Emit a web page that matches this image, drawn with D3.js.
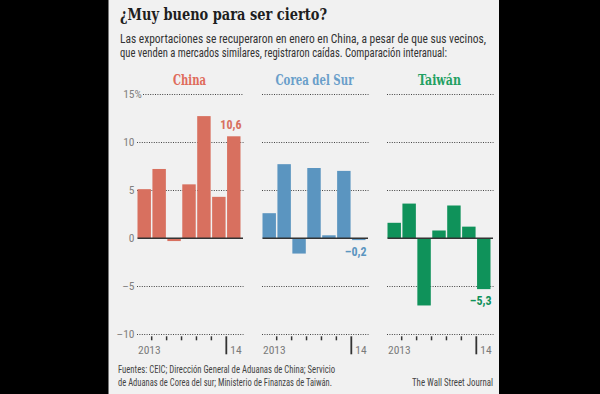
<!DOCTYPE html>
<html lang="es">
<head>
  <meta charset="UTF-8">
  <title>¿Muy bueno para ser cierto?</title>
  <script src="https://d3js.org/d3.v7.min.js"></script>
  <style>
    body { margin: 0; background: #000; }
    svg { display: block; }
    .narrow { font-family: "Liberation Sans Narrow", "Roboto Condensed", "Arial Narrow", "Liberation Sans", sans-serif; }
    .slab { font-family: "DejaVu Serif Condensed", "DejaVu Serif", serif; font-weight: bold; }
    .grid { stroke: #444; stroke-width: 1; stroke-dasharray: 1,1.4; }
    .zero { stroke: #333; stroke-width: 1.6; }
  </style>
</head>
<body>
<svg width="600" height="394"></svg>
<script>
// data: year-on-year export change, Jul 2013 - Jan 2014
const months = ["jul", "ago", "sep", "oct", "nov", "dic", "ene"];
const countries = ["China", "Corea del Sur", "Taiwán"];
const china = [5.1, 7.2, -0.3, 5.6, 12.7, 4.3, 10.6];
const korea = [2.6, 7.7, -1.6, 7.3, 0.3, 7.0, -0.2];
const taiwan = [1.6, 3.6, -7.0, 0.8, 3.4, 1.2, -5.3];
const lastLabels = ["10,6", "-0,2", "-5,3"];
const yTicks = [15, 10, 5, 0, -5, -10];
const yearLabels = ["2013", "14"];

const barColors = ["#d8705f", "#5b95c0", "#0f925a"];
const titleColors = ["#df6b5b", "#6a9fca", "#22a062"];

const svg = d3.select("svg");

// page background + black side bars
svg.append("rect").attr("width", 600).attr("height", 394).attr("fill", "#f1f1f1");
svg.append("rect").attr("x", 0).attr("width", 108.5).attr("height", 394).attr("fill", "#000");
svg.append("rect").attr("x", 499).attr("width", 101).attr("height", 394).attr("fill", "#000");

// headline and intro
svg.append("text").attr("class", "slab")
  .attr("x", 120).attr("y", 20)
  .attr("font-size", 16).attr("fill", "#1e1e1e")
  .attr("textLength", 207).attr("lengthAdjust", "spacingAndGlyphs")
  .text("¿Muy bueno para ser cierto?");

const intro = [
  ["Las exportaciones se recuperaron en enero en China, a pesar de que sus vecinos,", 366, 43],
  ["que venden a mercados similares, registraron caídas. Comparación interanual:", 327, 57]
];
intro.forEach(([t, w, y]) => {
  svg.append("text").attr("class", "narrow")
    .attr("x", 120).attr("y", y)
    .attr("font-size", 12).attr("fill", "#333")
    .attr("textLength", w).attr("lengthAdjust", "spacingAndGlyphs")
    .text(t);
});

// shared y scale
const y = d3.scaleLinear().domain([-10, 15]).range([334.3, 94]);

const series = [china, korea, taiwan];
const titleWidths = [33, 78, 43];

series.forEach((vals, p) => {
  const x0 = 137.5 + p * 125;
  const x = d3.scaleBand().domain(months).range([x0, x0 + 103]).paddingInner(0.1);
  const g = svg.append("g");

  // panel title
  g.append("text").attr("class", "slab")
    .attr("x", x0 + 52).attr("y", 85)
    .attr("text-anchor", "middle")
    .attr("font-size", 15).attr("fill", titleColors[p])
    .attr("textLength", titleWidths[p]).attr("lengthAdjust", "spacingAndGlyphs")
    .text(countries[p]);

  // dotted gridlines
  yTicks.filter(d => d !== 0).forEach(d => {
    const start = (p === 0 && d === 15) ? x0 + 5.5 : x0 - 0.5;
    g.append("line").attr("class", "grid")
      .attr("x1", start).attr("x2", x0 + 106)
      .attr("y1", Math.round(y(d)) + 0.5).attr("y2", Math.round(y(d)) + 0.5);
  });

  // y labels only on first panel
  if (p === 0) {
    yTicks.forEach(d => {
      const t = g.append("text").attr("class", "narrow")
        .attr("x", x0 - 3).attr("y", y(d)).attr("dy", "0.36em")
        .attr("text-anchor", "end")
        .attr("font-size", 11.5).attr("fill", "#808080")
        .text(d < 0 ? "\u2013" + Math.abs(d) : d);
      if (d === 15) {
        g.append("text").attr("class", "narrow")
          .attr("x", x0 - 3).attr("y", y(d)).attr("dy", "0.36em")
          .attr("font-size", 11.5).attr("fill", "#808080")
          .text("%");
      }
    });
  }

  // bars
  g.selectAll("rect.bar")
    .data(vals)
    .join("rect")
    .attr("class", "bar")
    .attr("x", (d, i) => x(months[i]))
    .attr("width", x.bandwidth())
    .attr("y", d => y(Math.max(0, d)))
    .attr("height", d => Math.abs(y(d) - y(0)))
    .attr("fill", barColors[p]);

  // zero line
  g.append("line").attr("class", "zero")
    .attr("x1", x0).attr("x2", x0 + 105.5)
    .attr("y1", y(0)).attr("y2", y(0));

  // value label on last bar
  const last = vals[vals.length - 1];
  const lx = x(months[6]) + x.bandwidth() + 1;
  g.append("text").attr("class", "narrow")
    .attr("x", lx)
    .attr("y", last >= 0 ? y(last) - 7 : y(last) + 16)
    .attr("text-anchor", "end")
    .attr("font-size", 12).attr("font-weight", "bold")
    .attr("fill", barColors[p])
    .text(lastLabels[p].replace("-", "\u2013"));

  // month ticks along the bottom
  const base = y(-10) + 2;
  months.slice(1).forEach((m, i) => {
    const tx = x(m) - x.step() * x.paddingInner() / 2;
    const major = m === "ene";
    g.append("line")
      .attr("x1", tx).attr("x2", tx)
      .attr("y1", base).attr("y2", base + (major ? 18 : 4))
      .attr("stroke", "#333")
      .attr("stroke-width", major ? 1.8 : 1.5);
    if (major) {
      g.append("text").attr("class", "narrow")
        .attr("x", tx + 4).attr("y", 354)
        .attr("font-size", 11.5).attr("fill", "#7a7a7a")
        .text(yearLabels[1]);
    }
  });
  g.append("text").attr("class", "narrow")
    .attr("x", x0 + 0.5).attr("y", 354)
    .attr("font-size", 11.5).attr("fill", "#7a7a7a")
    .text(yearLabels[0]);
});

// sources and credit
const sources = [
  ["Fuentes: CEIC; Dirección General de Aduanas de China; Servicio", 217, 373],
  ["de Aduanas de Corea del sur; Ministerio de Finanzas de Taiwán.", 214, 386]
];
sources.forEach(([t, w, yy]) => {
  svg.append("text").attr("class", "narrow")
    .attr("x", 118).attr("y", yy)
    .attr("font-size", 10.5).attr("fill", "#444")
    .attr("textLength", w).attr("lengthAdjust", "spacingAndGlyphs")
    .text(t);
});
svg.append("text").attr("class", "narrow")
  .attr("x", 493).attr("y", 386)
  .attr("text-anchor", "end")
  .attr("font-size", 10.5).attr("fill", "#444")
  .attr("textLength", 81).attr("lengthAdjust", "spacingAndGlyphs")
  .text("The Wall Street Journal");
</script>
</body>
</html>
